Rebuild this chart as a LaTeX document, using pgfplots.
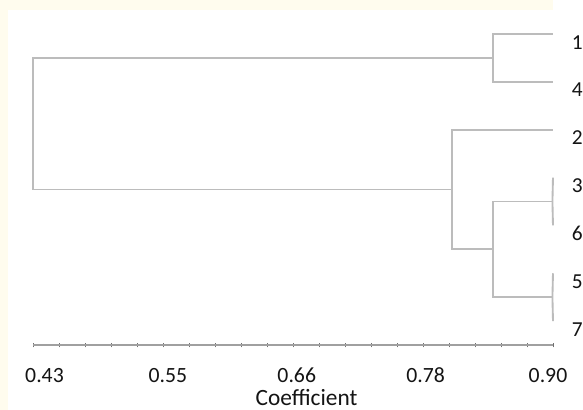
\documentclass[border=0pt]{standalone}
\usepackage{fontspec}
\setmainfont{Carlito}
\usepackage{pgfplots}
\pgfplotsset{compat=1.18}
\definecolor{cream}{RGB}{255,252,238}
\definecolor{dline}{RGB}{188,188,188}
\definecolor{axline}{RGB}{160,160,160}
\definecolor{txt}{RGB}{20,20,20}
\tikzset{leaflab/.style={anchor=base west, inner sep=0pt, text=txt, font=\fontsize{16}{19}\selectfont, xshift=14pt, yshift=-11.25pt}}
\pgfplotsset{dl/.style={draw=dline, line width=1.4pt, line join=miter, solid, mark=none}}
\begin{document}
\begin{tikzpicture}
\useasboundingbox (0pt,0pt) rectangle (437.25pt,-307.5pt);
\fill[cream] (0pt,0pt) rectangle (437.25pt,-307.5pt);
\fill[white] (6pt,-7.5pt) rectangle (437.25pt,-307.5pt);
\fill[white] (414.75pt,0pt) rectangle (437.25pt,-7.5pt);
\begin{axis}[
  at={(24.75pt,-258.75pt)}, anchor=south west, scale only axis,
  width=390pt, height=251.1pt,
  xmin=0.43, xmax=0.90, ymin=-0.5, ymax=6.5,
  clip=false,
  axis y line=none, axis x line*=bottom,
  x axis line style={axline, line width=0.9pt, -},
  xtick={0.4404,0.5520,0.6684,0.7848,0.8955},
  xticklabels={0.43,0.55,0.66,0.78,0.90},
  major tick length=0pt,
  minor xtick={0.43,0.4535,0.477,0.5005,0.524,0.5475,0.571,0.5945,0.618,0.6415,0.665,0.6885,0.712,0.7355,0.759,0.7825,0.806,0.8295,0.853,0.8765,0.90},
  minor tick length=3.5pt,
  xtick align=center,
  minor tick style={draw=axline!70!black, line width=0.6pt},
  xticklabel style={anchor=base, yshift=-27.75pt, inner sep=0pt, font=\fontsize{16.3}{19}\selectfont, text=txt},
]
% {1,4}
\addplot[dl] coordinates {(0.90,6) (0.8458,6) (0.8458,5) (0.90,5)};
% {3,6}
\addplot[dl] coordinates {(0.90,3) (0.8995,2.5) (0.90,2)};
% {5,7}
\addplot[dl] coordinates {(0.90,1) (0.8995,0.5) (0.90,0)};
% {3,6,5,7}
\addplot[dl] coordinates {(0.8995,2.5) (0.8458,2.5) (0.8458,0.5) (0.8995,0.5)};
% {2,3,6,5,7}
\addplot[dl] coordinates {(0.90,4) (0.8087,4) (0.8087,1.5) (0.8458,1.5)};
% root
\addplot[dl] coordinates {(0.8458,5.5) (0.43,5.5) (0.43,2.75) (0.8087,2.75)};
\node[leaflab] at (axis cs:0.90,6) {1};
\node[leaflab] at (axis cs:0.90,5) {4};
\node[leaflab] at (axis cs:0.90,4) {2};
\node[leaflab] at (axis cs:0.90,3) {3};
\node[leaflab] at (axis cs:0.90,2) {6};
\node[leaflab] at (axis cs:0.90,1) {5};
\node[leaflab] at (axis cs:0.90,0) {7};
\end{axis}
\node[anchor=base, inner sep=0pt, text=txt, font=\fontsize{17.5}{20}\selectfont] at (229.9pt,-304pt) {Coefficient};
\end{tikzpicture}
\end{document}
